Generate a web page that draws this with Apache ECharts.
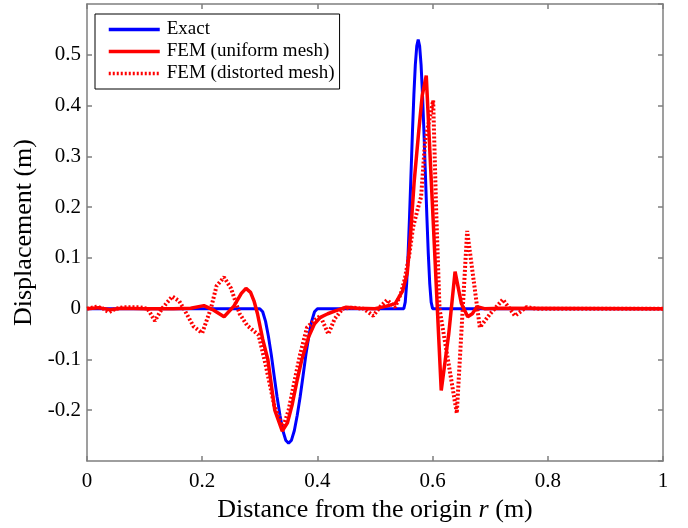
<!DOCTYPE html>
<html>
<head>
<meta charset="utf-8" />
<script src="https://cdn.jsdelivr.net/npm/echarts@6/dist/echarts.min.js"></script>
<style>
  html, body { margin: 0; padding: 0; background: #fff; }
  #main { width: 688px; height: 528px; }
</style>
</head>
<body>
<div id="main"></div>
<script>
// exact solution
var exactX = [0, 0.30, 0.305, 0.31, 0.315, 0.32, 0.325, 0.33, 0.335, 0.34, 0.345, 0.35, 0.355, 0.36, 0.365, 0.37, 0.375, 0.38, 0.385, 0.39, 0.395, 0.40,
  0.55, 0.5525, 0.555, 0.5575, 0.56, 0.5625, 0.565, 0.5675, 0.57, 0.5725, 0.575, 0.5775, 0.58, 0.5825, 0.585, 0.5875, 0.59, 0.5925, 0.595, 0.5975, 0.60, 1];
var exactY = [0, 0, -0.006, -0.025, -0.055, -0.091, -0.133, -0.174, -0.210, -0.240, -0.259, -0.265, -0.259, -0.240, -0.210, -0.174, -0.133, -0.091, -0.055, -0.025, -0.006, 0,
  0, 0.013, 0.05, 0.109, 0.183, 0.265, 0.347, 0.421, 0.48, 0.517, 0.53, 0.517, 0.48, 0.421, 0.347, 0.265, 0.183, 0.109, 0.05, 0.013, 0, 0];

// FEM, uniform mesh
var uniformX = [0, 0.02, 0.04, 0.06, 0.10, 0.15, 0.18, 0.203, 0.22, 0.238, 0.255, 0.268, 0.276, 0.284, 0.29, 0.296, 0.305, 0.314, 0.326, 0.339,
  0.348, 0.356, 0.365, 0.373, 0.385, 0.395, 0.405, 0.418, 0.43, 0.45, 0.47, 0.50, 0.52, 0.535, 0.548, 0.556, 0.562, 0.568, 0.576, 0.582, 0.589,
  0.60, 0.615, 0.628, 0.639, 0.65, 0.661, 0.669, 0.677, 0.69, 0.72, 1];
var uniformY = [0, 0.002, -0.002, 0.001, 0, 0, 0.001, 0.006, -0.003, -0.016, 0.005, 0.03, 0.04, 0.032, 0.015, -0.01, -0.06, -0.1, -0.2, -0.241,
  -0.225, -0.19, -0.14, -0.1, -0.055, -0.03, -0.017, -0.01, -0.005, 0.003, 0.001, 0, 0.005, 0.01, 0.035, 0.07, 0.15, 0.25, 0.35, 0.42, 0.459,
  0.197, -0.161, -0.05, 0.073, 0.01, -0.016, -0.01, 0.004, 0, 0.001, 0];

// FEM, distorted mesh
var distortedX = [0, 0.017, 0.028, 0.038, 0.05, 0.065, 0.09, 0.105, 0.118, 0.13, 0.148, 0.16, 0.168, 0.185, 0.2, 0.215, 0.225, 0.238, 0.25, 0.265,
  0.278, 0.298, 0.31, 0.325, 0.34, 0.35, 0.358, 0.37, 0.382, 0.393, 0.405, 0.419, 0.43, 0.444, 0.46, 0.48, 0.497, 0.51, 0.521, 0.535,
  0.545, 0.552, 0.56, 0.566, 0.575, 0.58, 0.587, 0.601, 0.606, 0.612, 0.642, 0.66, 0.682, 0.70, 0.722, 0.743, 0.763, 0.78, 1];
var distortedY = [0, 0.004, 0, -0.007, 0, 0.003, 0.003, 0, -0.024, 0, 0.024, 0.015, 0, -0.035, -0.048, 0, 0.045, 0.062, 0.04, -0.01,
  -0.033, -0.052, -0.11, -0.19, -0.235, -0.2, -0.155, -0.09, -0.037, -0.025, -0.014, -0.05, -0.02, 0, 0.002, 0, -0.014, 0.005, 0.017, 0.003,
  0.03, 0.06, 0.11, 0.16, 0.2, 0.22, 0.33, 0.41, 0.2, 0, -0.206, 0.153, -0.037, -0.01, 0.018, -0.014, 0.003, 0, 0];

var xTicks = { min: 0, max: 1, step: 0.2 };
var yTicks = { min: -0.3, max: 0.6, step: 0.1 };

function zip(xs, ys) {
  var out = [];
  for (var i = 0; i < xs.length; i++) out.push([xs[i], ys[i]]);
  return out;
}

var serif = "'Liberation Serif', 'Times New Roman', serif";
var axisGray = '#7f7f7f';

function xAx(pos, labels) {
  return {
    type: 'value', position: pos, min: xTicks.min, max: xTicks.max, interval: xTicks.step,
    axisLine: { show: true, onZero: false, lineStyle: { color: axisGray, width: 1.5 } },
    axisTick: { show: true, inside: true, length: 5, lineStyle: { color: axisGray, width: 1.5 } },
    axisLabel: { show: labels, color: '#000', fontFamily: serif, fontSize: 21, margin: 10 },
    splitLine: { show: false }
  };
}
function yAx(pos, labels) {
  return {
    type: 'value', position: pos, min: yTicks.min, max: yTicks.max, interval: yTicks.step,
    axisLine: { show: true, onZero: false, lineStyle: { color: axisGray, width: 1.5 } },
    axisTick: { show: true, inside: true, length: 5, lineStyle: { color: axisGray, width: 1.5 } },
    axisLabel: { show: labels, color: '#000', fontFamily: serif, fontSize: 21, margin: 6,
      showMinLabel: false, showMaxLabel: false },
    splitLine: { show: false }
  };
}

var xMain = xAx('bottom', true);
xMain.name = 'Distance from the origin {i|r} (m)';
xMain.nameLocation = 'middle';
xMain.nameGap = 31;
xMain.nameTextStyle = { color: '#000', fontFamily: serif, fontSize: 26,
  rich: { i: { fontStyle: 'italic', fontFamily: serif, fontSize: 26, color: '#000' } } };

var yMain = yAx('left', true);
yMain.name = 'Displacement (m)';
yMain.nameLocation = 'middle';
yMain.nameGap = 47;
yMain.nameTextStyle = { color: '#000', fontFamily: serif, fontSize: 26 };

var chart = echarts.init(document.getElementById('main'), null, { renderer: 'canvas' });
chart.setOption({
  animation: false,
  backgroundColor: '#fff',
  grid: { left: 87, right: 25, top: 4, bottom: 67, containLabel: false },
  legend: {
    orient: 'vertical', left: 95, top: 14,
    backgroundColor: '#fff', borderColor: '#000', borderWidth: 1,
    padding: [6, 5, 6, 12],
    itemWidth: 51, itemHeight: 20, itemGap: 3,
    itemStyle: { opacity: 0 },
    lineStyle: { width: 3.5 },
    textStyle: { color: '#000', fontFamily: serif, fontSize: 19, padding: [0, 0, 0, 2] },
    data: ['Exact', 'FEM (uniform mesh)', 'FEM (distorted mesh)']
  },
  xAxis: [xMain, xAx('top', false)],
  yAxis: [yMain, yAx('right', false)],
  series: [
    { name: 'Exact', type: 'line', symbol: 'none', data: zip(exactX, exactY),
      lineStyle: { color: '#0000ff', width: 3 }, itemStyle: { color: '#0000ff' } },
    { name: 'FEM (uniform mesh)', type: 'line', symbol: 'none', data: zip(uniformX, uniformY),
      lineStyle: { color: '#ff0000', width: 3.5 }, itemStyle: { color: '#ff0000' } },
    { name: 'FEM (distorted mesh)', type: 'line', symbol: 'none', data: zip(distortedX, distortedY),
      lineStyle: { color: '#ff0000', width: 4, type: [2, 2] }, itemStyle: { color: '#ff0000' } }
  ]
});
</script>
</body>
</html>
